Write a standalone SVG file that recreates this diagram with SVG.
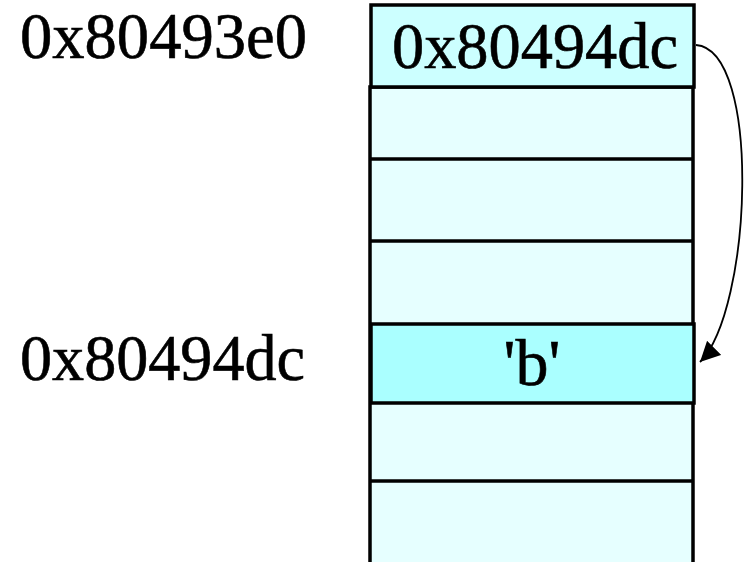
<svg xmlns="http://www.w3.org/2000/svg" width="749" height="562" viewBox="0 0 749 562">
<style>
.cell{stroke:#000;stroke-width:3.5}
.lbl{font-family:"Liberation Serif","DejaVu Serif",serif;font-size:66px;fill:#000;stroke:#000;stroke-width:0.6}
.conn{fill:none;stroke:#000;stroke-width:1.8}
</style>
<defs>
<marker id="ah" markerWidth="20" markerHeight="20" refX="10" refY="5" orient="auto" markerUnits="userSpaceOnUse" viewBox="0 0 10 10">
<path d="M0,0 L10,5 L0,10 z" fill="#000"/>
</marker>
</defs>
<rect width="749" height="562" fill="#fff"/>
<g id="stack">
<rect class="cell" x="370" y="87" width="323" height="490" fill="#e6ffff"/>
<line class="cell" x1="370" y1="159" x2="693" y2="159"/>
<line class="cell" x1="370" y1="241" x2="693" y2="241"/>
<line class="cell" x1="370" y1="481" x2="693" y2="481"/>
</g>
<g id="ptr">
<rect class="cell" x="371" y="5" width="323" height="82" fill="#ccffff"/>
<text class="lbl" x="392" y="68" textLength="286" lengthAdjust="spacingAndGlyphs">0x80494dc</text>
</g>
<g id="bcell">
<rect class="cell" x="371" y="324" width="323" height="79" fill="#aaffff"/>
<text class="lbl" x="532" y="385" text-anchor="middle">'b'</text>
</g>
<g id="label1">
<text class="lbl" x="20" y="58" textLength="287" lengthAdjust="spacingAndGlyphs">0x80493e0</text>
</g>
<g id="label2">
<text class="lbl" x="20" y="380" textLength="285" lengthAdjust="spacingAndGlyphs">0x80494dc</text>
</g>
<g id="connectors">
<path class="conn" d="M696,45 C762,50 752,310 700,362" marker-end="url(#ah)"/>
</g>
</svg>
